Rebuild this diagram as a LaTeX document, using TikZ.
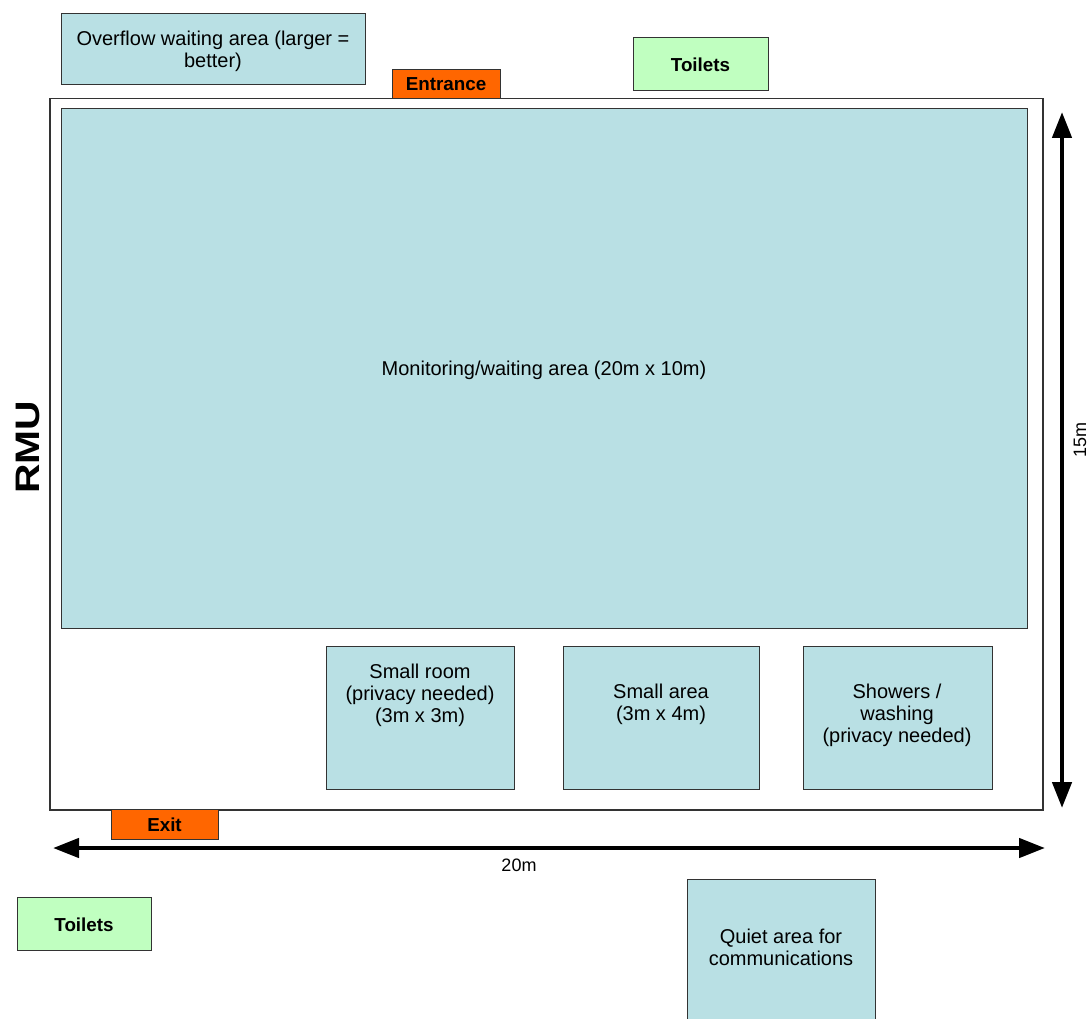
\documentclass[tikz,border=0pt]{standalone}
\usepackage{fontspec}
\setmainfont{Liberation Sans}
\usetikzlibrary{arrows.meta}
\definecolor{areablue}{RGB}{185,224,228}
\definecolor{toiletgreen}{RGB}{192,255,192}
\definecolor{doororange}{RGB}{255,102,0}
\definecolor{edgegray}{RGB}{51,51,51}
\begin{document}
\begin{tikzpicture}[x=1pt,y=-1pt,
  box/.style={draw=edgegray,line width=1.2pt,inner sep=0pt,anchor=north west},
  area/.style={box,fill=areablue},
  toilet/.style={box,fill=toiletgreen},
  door/.style={box,fill=doororange},
  txt/.style={font=\fontsize{20}{22}\selectfont,align=center,inner sep=0pt},
  btxt/.style={txt,font=\fontsize{18.8}{22}\selectfont\bfseries},
  dimtxt/.style={txt,font=\fontsize{18}{20}\selectfont},
  dim/.style={line width=4.5pt,{Triangle[length=26pt,width=19pt]}-{Triangle[length=26pt,width=19pt]}}
]
\useasboundingbox (0,0) rectangle (1092,1019);
\clip (0,0) rectangle (1092,1019);

% building outline and main hall
\node[box,fill=white,line width=1.5pt,minimum width=993pt,minimum height=711pt] (hall) at (49,98) {};
\node[area,minimum width=966pt,minimum height=520pt] (main) at (61,108) {};
\node[txt] (maintxt) at (544,370) {Monitoring/waiting area (20m x 10m)};

% rooms along the bottom wall
\node[area,minimum width=188pt,minimum height=143pt] (room) at (326,646) {};
\node[txt] (roomtxt) at (420,695) {Small room\\(privacy needed)\\(3m x 3m)};
\node[area,minimum width=196pt,minimum height=143pt] (small) at (563,646) {};
\node[txt] (smalltxt) at (661,704) {Small area\\(3m x 4m)};
\node[area,minimum width=189pt,minimum height=143pt] (shower) at (803,646) {};
\node[txt] (showertxt) at (897,715) {Showers /\\washing\\(privacy needed)};

% outside areas
\node[area,minimum width=304pt,minimum height=71pt] (overflow) at (61,13) {};
\node[txt] (overflowtxt) at (213,51) {Overflow waiting area (larger =\\better)};
\node[toilet,minimum width=135pt,minimum height=53pt] (toilettop) at (633,37) {};
\node[btxt] (toilettoptxt) at (700.5,65) {Toilets};
\node[toilet,minimum width=134pt,minimum height=53pt] (toiletbot) at (17,897) {};
\node[btxt] (toiletbottxt) at (84,925) {Toilets};
\node[area,minimum width=188pt,minimum height=150pt] (quiet) at (687,879) {};
\node[txt] (quiettxt) at (781,947) {Quiet area for\\communications};

% doors
\node[door,minimum width=108pt,minimum height=29pt] (entrance) at (392,69) {};
\node[btxt] (entrancetxt) at (446,84) {Entrance};
\node[door,minimum width=107pt,minimum height=30pt] (exit) at (111,809) {};
\node[btxt] (exittxt) at (164.5,825) {Exit};

% dimensions
\coordinate (wl) at (53,848);
\coordinate (wr) at (1045,848);
\draw[dim] (wl) -- (wr);
\node[dimtxt] (wlab) at (519,865) {20m};
\coordinate (ht) at (1062,112);
\coordinate (hb) at (1062,808);
\draw[dim] (ht) -- (hb);
\node[dimtxt,rotate=90] (hlab) at (1080,440) {15m};

\node[rotate=90,inner sep=0pt,font=\fontsize{34}{40}\selectfont\bfseries] (rmu) at (28,447) {\scalebox{1.2}[1]{RMU}};
\end{tikzpicture}
\end{document}
